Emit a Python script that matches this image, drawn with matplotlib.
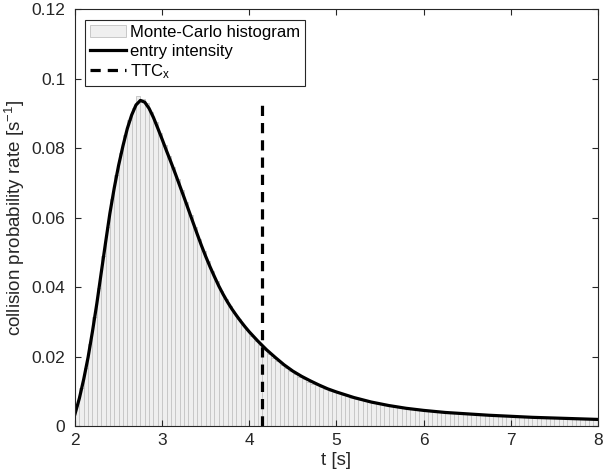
import matplotlib
matplotlib.use("Agg")
import matplotlib.pyplot as plt
import numpy as np

plt.rcParams['font.family'] = ['Liberation Sans', 'DejaVu Sans']
plt.rcParams['mathtext.default'] = 'regular'

# histogram: 120 bins of 0.05 s from 2 to 8
bin_start = 2.0
bin_width = 0.05
hist_vals = [
    0.0058, 0.0108, 0.0168, 0.0236, 0.0315, 0.0398, 0.0488, 0.0572, 0.0652, 0.0722,
    0.0785, 0.0838, 0.0880, 0.0915, 0.0950, 0.0942, 0.0930, 0.0905, 0.0874, 0.0842,
    0.0808, 0.0776, 0.0745, 0.0712, 0.0680, 0.0644, 0.0607, 0.0573, 0.0538, 0.0505,
    0.0474, 0.0446, 0.0417, 0.0390, 0.0366, 0.0345, 0.0326, 0.0308, 0.0290, 0.0275,
    0.0260, 0.0246, 0.0233, 0.0220, 0.0208, 0.0197, 0.0186, 0.0176, 0.0166, 0.0157,
    0.0149, 0.0141, 0.0134, 0.0128, 0.0122, 0.0117, 0.0112, 0.0107, 0.0102, 0.0098,
    0.0094, 0.0090, 0.0086, 0.0082, 0.0078, 0.0075, 0.0072, 0.0069, 0.0067, 0.0064,
    0.0062, 0.0060, 0.0058, 0.0056, 0.0054, 0.0052, 0.0050, 0.0049, 0.0047, 0.0046,
    0.0045, 0.0044, 0.0043, 0.0042, 0.0041, 0.0040, 0.0039, 0.0038, 0.0037, 0.0036,
    0.0035, 0.0035, 0.0034, 0.0033, 0.0032, 0.0031, 0.0031, 0.0030, 0.0029, 0.0029,
    0.0028, 0.0027, 0.0027, 0.0026, 0.0026, 0.0025, 0.0025, 0.0024, 0.0024, 0.0023,
    0.0023, 0.0022, 0.0022, 0.0021, 0.0021, 0.0021, 0.0020, 0.0020, 0.0019, 0.0019,
]

# entry intensity curve
curve_t = [
    2.00, 2.05, 2.10, 2.15, 2.20, 2.25, 2.30, 2.35, 2.40, 2.45,
    2.50, 2.55, 2.60, 2.65, 2.70, 2.75, 2.80, 2.85, 2.90, 2.95,
    3.00, 3.05, 3.10, 3.15, 3.20, 3.25, 3.30, 3.35, 3.40, 3.45,
    3.50, 3.55, 3.60, 3.65, 3.70, 3.75, 3.80, 3.85, 3.90, 3.95,
    4.00, 4.10, 4.20, 4.30, 4.40, 4.50, 4.60, 4.70, 4.80, 4.90,
    5.00, 5.20, 5.40, 5.60, 5.80, 6.00, 6.25, 6.50, 6.75, 7.00,
    7.25, 7.50, 7.75, 8.00,
]
curve_v = [
    0.0035, 0.0080, 0.0135, 0.0198, 0.0272, 0.0352, 0.0440, 0.0527, 0.0612, 0.0685,
    0.0750, 0.0806, 0.0856, 0.0895, 0.0924, 0.0937, 0.0932, 0.0914, 0.0888, 0.0857,
    0.0825, 0.0792, 0.0760, 0.0727, 0.0693, 0.0659, 0.0624, 0.0589, 0.0554, 0.0520,
    0.0488, 0.0458, 0.0430, 0.0403, 0.0379, 0.0357, 0.0337, 0.0319, 0.0302, 0.0286,
    0.0271, 0.0244, 0.0219, 0.0197, 0.0176, 0.0158, 0.0143, 0.0130, 0.0118, 0.0107,
    0.0098, 0.0082, 0.0069, 0.0059, 0.0051, 0.0045, 0.0039, 0.0035, 0.0031, 0.0028,
    0.0025, 0.0023, 0.0021, 0.0019,
]

ttc_x = 4.15
ttc_top = 0.093

fig = plt.figure(figsize=(6.1, 4.76), dpi=100)
ax = fig.add_axes([0.123, 0.105, 0.857, 0.876])

centers = bin_start + bin_width * (np.arange(len(hist_vals)) + 0.5)
h_bar = ax.bar(centers, hist_vals, width=bin_width, color='#efefef', edgecolor='#c8c8c8',
               linewidth=0.7)
h_line, = ax.plot(curve_t, curve_v, color='black', lw=2.3)
h_ttc, = ax.plot([ttc_x, ttc_x], [0, ttc_top], color='black', lw=2.3,
                 ls=(0, (3.2, 2.2)))

ax.set_xlim(2, 8)
ax.set_ylim(0, 0.12)
ax.set_xticks([2, 3, 4, 5, 6, 7, 8])
ax.set_yticks([0, 0.02, 0.04, 0.06, 0.08, 0.1, 0.12])
ax.set_yticklabels(['0', '0.02', '0.04', '0.06', '0.08', '0.1', '0.12'])
ax.tick_params(direction='in', top=True, right=True, length=4, width=0.8,
               labelsize=12.5, colors='#262626')
ax.tick_params(axis='y', pad=7)
ax.tick_params(axis='x', pad=5)
for s in ax.spines.values():
    s.set_color('#262626')
    s.set_linewidth(0.8)

ax.set_xlabel('t [s]', fontsize=13.5, color='#262626', labelpad=3)
ax.set_ylabel('collision probability rate [s$^{-1}$]', fontsize=13.5, color='#262626',
              labelpad=3)

leg = ax.legend([h_bar, h_line, h_ttc],
                ['Monte-Carlo histogram', 'entry intensity', 'TTC$_x$'],
                loc='upper left', bbox_to_anchor=(0.019, 0.974), fontsize=12,
                frameon=True, fancybox=False, edgecolor='#262626', borderpad=0.3,
                labelspacing=0.22, handlelength=2.15, handletextpad=0.25,
                borderaxespad=0.0, framealpha=1)
leg.get_frame().set_linewidth(0.8)

fig.savefig('out.png', dpi=100)
